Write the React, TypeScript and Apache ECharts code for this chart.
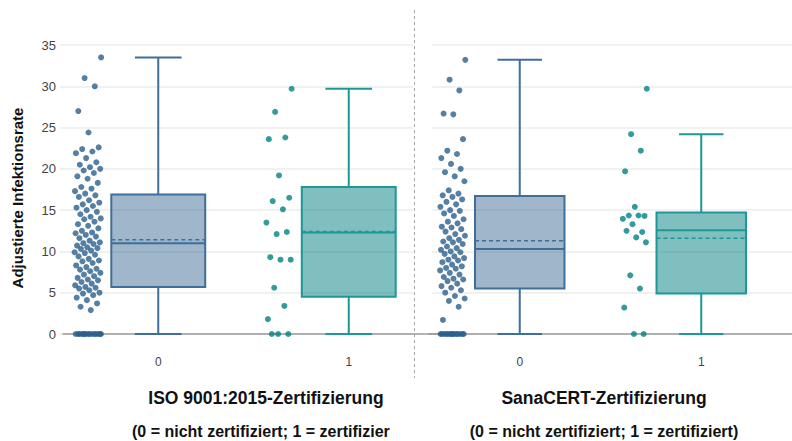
import React, { useEffect, useRef } from 'react';
import * as echarts from 'echarts';

const categories = ['0', '1'];
const yMin = 0;
const yMax = 35;
const yInterval = 5;

// Box statistics: [cat 0, cat 1]
const isoMin = [0, 0];
const isoQ1 = [5.7, 4.5];
const isoMedian = [11.0, 12.3];
const isoQ3 = [16.9, 17.8];
const isoMax = [33.5, 29.7];
const isoMean = [11.4, 12.4];

const sanaMin = [0, 0];
const sanaQ1 = [5.5, 4.9];
const sanaMedian = [10.3, 12.55];
const sanaQ3 = [16.7, 14.7];
const sanaMax = [33.2, 24.2];
const sanaMean = [11.3, 11.6];

// Individual points
const isoNot = [
  33.5, 31.0, 30.0, 27.0, 24.4, 22.6, 22.4, 22.1, 21.9, 21.3, 20.8, 20.5, 20.2, 20.0, 19.8, 19.5,
  19.1, 18.8, 18.3, 17.8, 17.6, 17.3, 17.0, 16.8, 16.6, 16.2, 15.9, 15.7, 15.5, 15.3, 15.0, 14.8,
  14.5, 14.2, 14.0, 13.9, 13.6, 13.3, 13.1, 12.8, 12.5, 12.3, 12.2, 12.0, 11.8, 11.6, 11.3, 11.1,
  11.0, 10.9, 10.7, 10.5, 10.4, 10.3, 10.1, 9.9, 9.8, 9.6, 9.4, 9.1, 8.9, 8.8, 8.6, 8.3, 8.1, 7.9,
  7.8, 7.6, 7.4, 7.2, 7.0, 6.8, 6.6, 6.5, 6.3, 6.1, 5.9, 5.7, 5.6, 5.5, 5.3, 5.0, 4.9, 4.7, 4.4,
  4.1, 3.7, 3.3, 2.9, 0, 0, 0, 0, 0, 0, 0, 0, 0, 0, 0, 0, 0, 0, 0,
];
const isoYes = [
  29.7, 26.9, 23.8, 23.6, 19.2, 16.5, 16.1, 15.1, 13.5, 12.1, 12.35, 9.3, 9.0, 9.0, 5.6, 3.4, 1.8,
  0, 0, 0,
];
const sanaNot = [
  33.2, 30.8, 29.5, 26.7, 26.6, 23.6, 22.2, 21.8, 21.3, 20.6, 20.0, 19.6, 19.1, 18.5, 17.4, 17.0,
  16.8, 16.6, 16.3, 16.0, 15.7, 15.4, 15.0, 14.9, 14.6, 14.3, 13.9, 13.6, 13.4, 13.0, 12.9, 12.7,
  12.4, 12.1, 11.9, 11.6, 11.4, 11.2, 11.1, 10.9, 10.6, 10.4, 10.2, 10.0, 9.9, 9.7, 9.4, 9.2, 9.0,
  8.9, 8.7, 8.4, 8.2, 8.0, 7.9, 7.7, 7.4, 7.2, 6.9, 6.7, 6.6, 6.4, 6.1, 5.8, 5.6, 5.3, 5.0, 4.6,
  4.3, 4.0, 3.3, 1.7, 0, 0, 0, 0, 0, 0, 0, 0, 0, 0, 0, 0, 0, 0,
];
const sanaYes = [
  29.7, 24.2, 22.2, 19.7, 15.4, 14.3, 14.35, 14.35, 13.95, 13.3, 12.35, 12.5, 11.7, 11.1, 7.1, 5.5,
  3.2, 0, 0,
];

const leftTitle = 'ISO 9001:2015-Zertifizierung';
const rightTitle = 'SanaCERT-Zertifizierung';
const subTitle = '(0 = nicht zertifiziert; 1 = zertifiziert)';
const yName = 'Adjustierte Infektionsrate';

const BLUE = '#2c5f8d';
const BLUE_LINE = '#3f6e98';
const BLUE_FILL = 'rgba(63,110,152,0.5)';
const TEAL = '#008282';
const TEAL_LINE = '#1f9797';
const TEAL_FILL = 'rgba(0,128,128,0.5)';
const FONT = '"Liberation Sans", Arial, sans-serif';

// deterministic jitter placing points left of the box (strip of points)
const jitter = (i: number) => -0.30 - 0.14 * ((i * 0.6180339887) % 1);

const boxRows = (mn: number[], q1: number[], md: number[], q3: number[], mx: number[], mean: number[]) =>
  categories.map((_, i) => [i, mn[i], q1[i], md[i], q3[i], mx[i], mean[i]]);

const pts = (vals: number[], cat: number) => vals.map((v, i) => [cat + jitter(i), v]);

function makeRender(colors: string[][]) {
  return (params: any, api: any) => {
    const idx = api.value(0);
    const [line, fill] = colors[idx];
    const band = api.size([1, 0])[0];
    const bw = band * 0.493;
    const cw = band * 0.245;
    const pLo = api.coord([idx, api.value(1)]);
    const pQ1 = api.coord([idx, api.value(2)]);
    const pMd = api.coord([idx, api.value(3)]);
    const pQ3 = api.coord([idx, api.value(4)]);
    const pHi = api.coord([idx, api.value(5)]);
    const pMn = api.coord([idx, api.value(6)]);
    const x = pLo[0];
    const ls = { stroke: line, lineWidth: 2 };
    return {
      type: 'group',
      children: [
        { type: 'line', shape: { x1: x, y1: pHi[1], x2: x, y2: pQ3[1] }, style: ls },
        { type: 'line', shape: { x1: x, y1: pQ1[1], x2: x, y2: pLo[1] }, style: ls },
        { type: 'line', shape: { x1: x - cw / 2, y1: pHi[1], x2: x + cw / 2, y2: pHi[1] }, style: ls },
        { type: 'line', shape: { x1: x - cw / 2, y1: pLo[1], x2: x + cw / 2, y2: pLo[1] }, style: ls },
        {
          type: 'rect',
          shape: { x: x - bw / 2, y: pQ3[1], width: bw, height: pQ1[1] - pQ3[1] },
          style: { fill, stroke: line, lineWidth: 2 },
        },
        { type: 'line', shape: { x1: x - bw / 2, y1: pMd[1], x2: x + bw / 2, y2: pMd[1] }, style: ls },
        {
          type: 'line',
          shape: { x1: x - bw / 2, y1: pMn[1], x2: x + bw / 2, y2: pMn[1] },
          style: { stroke: line, lineWidth: 1.5, lineDash: [4, 3] },
        },
      ],
    };
  };
}

const colorSet = [
  [BLUE_LINE, BLUE_FILL],
  [TEAL_LINE, TEAL_FILL],
];

export default function App() {
  const ref = useRef<HTMLDivElement>(null);
  useEffect(() => {
    if (!ref.current) return;
    const chart = echarts.init(ref.current, null, { renderer: 'svg' });
    const top = 45;
    const bottom = 107;
    const hiddenY = (gi: number) => ({ type: 'value', gridIndex: gi, min: yMin, max: yMax, interval: yInterval, show: false });
    const catX = (gi: number) => ({
      type: 'category',
      gridIndex: gi,
      data: categories,
      axisLine: { show: true, lineStyle: { color: '#9a9a9a', width: 1.5 } },
      axisTick: { show: false },
      axisLabel: { color: '#444', fontSize: 12, margin: 22, fontFamily: FONT },
    });
    const valX = (gi: number) => ({ type: 'value', gridIndex: gi, min: -0.5, max: 1.5, show: false, position: 'top' });
    const option: any = {
      animation: false,
      backgroundColor: '#fff',
      grid: [
        { left: 60, top, bottom, width: 353 },
        { left: 432, top, bottom, right: 0 },
        { left: 63, top, bottom, width: 381 },
        { left: 429, top, bottom, width: 380 },
      ],
      xAxis: [
        { type: 'value', gridIndex: 0, show: false, min: 0, max: 1 },
        { type: 'value', gridIndex: 1, show: false, min: 0, max: 1 },
        catX(2),
        valX(2),
        catX(3),
        valX(3),
      ],
      yAxis: [
        {
          type: 'value',
          gridIndex: 0,
          min: yMin,
          max: yMax,
          interval: yInterval,
          axisLine: { show: false },
          axisTick: { show: false },
          axisLabel: { color: '#444', fontSize: 13, margin: 4, fontFamily: FONT },
          splitLine: { lineStyle: { color: '#ececec', width: 1.5 } },
        },
        {
          type: 'value',
          gridIndex: 1,
          min: yMin,
          max: yMax,
          interval: yInterval,
          axisLine: { show: false },
          axisTick: { show: false },
          axisLabel: { show: false },
          splitLine: { lineStyle: { color: '#ececec', width: 1.5 } },
        },
        hiddenY(2),
        hiddenY(3),
      ],
      series: [
        {
          type: 'custom',
          xAxisIndex: 2,
          yAxisIndex: 2,
          renderItem: makeRender(colorSet),
          encode: { x: 0, y: [1, 2, 3, 4, 5, 6] },
          data: boxRows(isoMin, isoQ1, isoMedian, isoQ3, isoMax, isoMean),
          z: 2,
        },
        {
          type: 'custom',
          xAxisIndex: 4,
          yAxisIndex: 3,
          renderItem: makeRender(colorSet),
          encode: { x: 0, y: [1, 2, 3, 4, 5, 6] },
          data: boxRows(sanaMin, sanaQ1, sanaMedian, sanaQ3, sanaMax, sanaMean),
          z: 2,
        },
        { type: 'scatter', xAxisIndex: 3, yAxisIndex: 2, symbolSize: 6, itemStyle: { color: BLUE }, data: pts(isoNot, 0), z: 3 },
        { type: 'scatter', xAxisIndex: 3, yAxisIndex: 2, symbolSize: 6, itemStyle: { color: TEAL }, data: pts(isoYes, 1), z: 3 },
        { type: 'scatter', xAxisIndex: 5, yAxisIndex: 3, symbolSize: 6, itemStyle: { color: BLUE }, data: pts(sanaNot, 0), z: 3 },
        { type: 'scatter', xAxisIndex: 5, yAxisIndex: 3, symbolSize: 6, itemStyle: { color: TEAL }, data: pts(sanaYes, 1), z: 3 },
      ],
      graphic: [
        {
          type: 'line',
          shape: { x1: 414.5, y1: 10, x2: 414.5, y2: 378 },
          style: { stroke: '#a8a8a8', lineWidth: 1, lineDash: [3, 3] },
        },
        {
          type: 'text',
          x: 17,
          y: 198,
          rotation: Math.PI / 2,
          style: { text: yName, font: `bold 15px ${FONT}`, fill: '#111', align: 'center', verticalAlign: 'middle' },
        },
        {
          type: 'text',
          x: 266,
          y: 398,
          style: { text: leftTitle, font: `bold 17.5px ${FONT}`, fill: '#111', align: 'center', verticalAlign: 'middle' },
        },
        {
          type: 'text',
          x: 604,
          y: 398,
          style: { text: rightTitle, font: `bold 17.5px ${FONT}`, fill: '#111', align: 'center', verticalAlign: 'middle' },
        },
        {
          type: 'text',
          x: 132,
          y: 431,
          style: {
            text: subTitle,
            font: `bold 16px ${FONT}`,
            fill: '#111',
            align: 'left',
            verticalAlign: 'middle',
            width: 263,
            overflow: 'truncate',
            ellipsis: '',
          },
        },
        {
          type: 'text',
          x: 604,
          y: 431,
          style: { text: subTitle, font: `bold 16px ${FONT}`, fill: '#111', align: 'center', verticalAlign: 'middle' },
        },
      ],
    };
    chart.setOption(option);
    return () => chart.dispose();
  }, []);
  return <div ref={ref} style={{ position: 'fixed', left: 0, top: 0, width: 792, height: 441 }} />;
}
